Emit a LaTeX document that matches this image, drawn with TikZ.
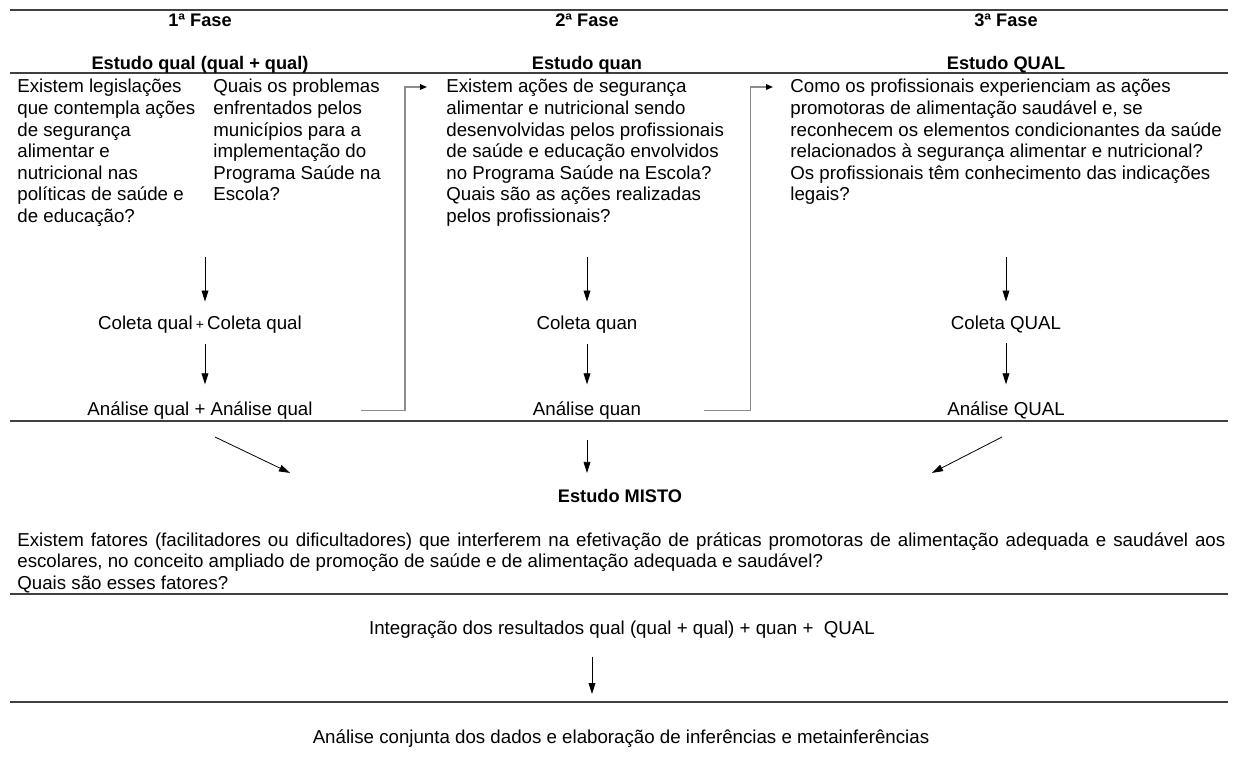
\documentclass[tikz,border=0pt]{standalone}
\usepackage{fontspec}
\setmainfont{Liberation Sans}
\usetikzlibrary{arrows.meta}

\begin{document}
\begin{tikzpicture}[x=0.5pt, y=-0.5pt,
    font=\fontsize{9.35}{10.8}\selectfont,
    every node/.style={inner sep=0pt},
    titulo/.style={anchor=base, font=\fontsize{9.1}{10.8}\selectfont\bfseries},
    regua/.style={draw=black!75, line width=0.6pt},
    seta/.style={draw=black, line width=0.4pt, -{Triangle[length=5.5pt, width=3.4pt]}},
    liga/.style={draw=black!45, line width=0.7pt, -{Triangle[length=3.5pt, width=2.8pt, color=black]}},
    texto/.style={anchor=north west, align=left}]
    \useasboundingbox (0,0) rectangle (1238,762);

    % Regua
    \draw[regua] (10,10) -- (1228,10);
    \draw[regua] (10,73) -- (1228,73);
    \draw[regua] (10,421) -- (1228,421);
    \draw[regua] (10,594) -- (1228,594);
    \draw[regua] (10,702) -- (1228,702);

    % Fases
    \node[titulo] (fase1) at (200,26.5) {1ª Fase};
    \node[titulo] (fase2) at (587,26.5) {2ª Fase};
    \node[titulo] (fase3) at (1006,26.5) {3ª Fase};
    \node[titulo] (est1) at (200,69) {Estudo qual (qual + qual)};
    \node[titulo] (est2) at (587,69) {Estudo quan};
    \node[titulo] (est3) at (1006,69) {Estudo QUAL};

    % Perguntas
    \node[texto] (q1a) at (17,79) {Existem legislações\\que contempla ações\\de segurança\\alimentar e\\nutricional nas\\políticas de saúde e\\de educação?};
    \node[texto] (q1b) at (213,79) {Quais os problemas\\enfrentados pelos\\municípios para a\\implementação do\\Programa Saúde na\\Escola?};
    \node[texto] (q2) at (446,79) {Existem ações de segurança\\alimentar e nutricional sendo\\desenvolvidas pelos profissionais\\de saúde e educação envolvidos\\no Programa Saúde na Escola?\\Quais são as ações realizadas\\pelos profissionais?};
    \node[texto] (q3) at (790,79) {Como os profissionais experienciam as ações\\promotoras de alimentação saudável e, se\\reconhecem os elementos condicionantes da saúde\\relacionados à segurança alimentar e nutricional?\\Os profissionais têm conhecimento das indicações\\legais?};

    % Coleta
    \node[anchor=base] (col1) at (200,329.5) {Coleta qual\,{\scriptsize +}\,Coleta qual};
    \node[anchor=base] (col2) at (587,329.5) {Coleta quan};
    \node[anchor=base] (col3) at (1006,329.5) {Coleta QUAL};

    % Analise
    \node[anchor=base] (an1) at (200,415.5) {Análise qual + Análise qual};
    \node[anchor=base] (an2) at (587,415.5) {Análise quan};
    \node[anchor=base] (an3) at (1006,415.5) {Análise QUAL};

    \coordinate (t1) at (205,257);
    \coordinate (t2) at (587,257);
    \coordinate (t3) at (1006,257);
    \draw[seta] (t1) -- ([xshift=2.5pt, yshift=7pt]col1.north);
    \draw[seta] (t2) -- ([yshift=7pt]col2.north);
    \draw[seta] (t3) -- ([yshift=7pt]col3.north);
    \draw[seta, shorten <=5pt, shorten >=8.5pt] ([xshift=2.5pt]col1.south) -- ([xshift=2.5pt]an1.north);
    \draw[seta, shorten <=5pt, shorten >=8.5pt] (col2.south) -- (an2.north);
    \draw[seta, shorten <=5pt, shorten >=8.5pt] (col3.south) -- (an3.north);

    % Ligacoes entre fases
    \draw[liga] ([xshift=24pt]an1.east |- an1.center) -- ++(44,0) |- ([xshift=-9.5pt, yshift=-4pt]q2.north west);
    \draw[liga] ([xshift=31.5pt]an2.east |- an2.center) -- ++(46,0) |- ([xshift=-8.5pt, yshift=-4pt]q3.north west);

    % Estudo misto
    \node[titulo] (misto) at (620,502.5) {Estudo MISTO};
    \coordinate (d1) at (215,437);
    \coordinate (d2) at (587,440);
    \coordinate (d3) at (1002,437);
    \draw[seta] (d1) -- ([xshift=-165pt, yshift=8pt]misto.north);
    \draw[seta] (d2) -- ([xshift=-16.5pt, yshift=8pt]misto.north);
    \draw[seta] (d3) -- ([xshift=156pt, yshift=8pt]misto.north);

    \node[anchor=base west, align=left] (fatores) at (17,546)
        {\makebox[604pt][s]{Existem fatores (facilitadores ou dificultadores) que interferem na efetivação de práticas promotoras de alimentação adequada e saudável aos}};
    \node[anchor=base west] (fatores2) at (17,567.5) {escolares, no conceito ampliado de promoção de saúde e de alimentação adequada e saudável?};
    \node[anchor=base west] (fatores3) at (17,589) {Quais são esses fatores?};

    % Integracao
    \node[anchor=base] (integ) at (622,634.5) {Integração dos resultados qual (qual + qual) + quan +\ \ QUAL};
    \node[anchor=base] (conj) at (621,743.5) {Análise conjunta dos dados e elaboração de inferências e metainferências};
    \coordinate (fim) at (592,694);
    \draw[seta, shorten <=9pt] ([xshift=-15pt]integ.south) -- (fim);
\end{tikzpicture}
\end{document}
